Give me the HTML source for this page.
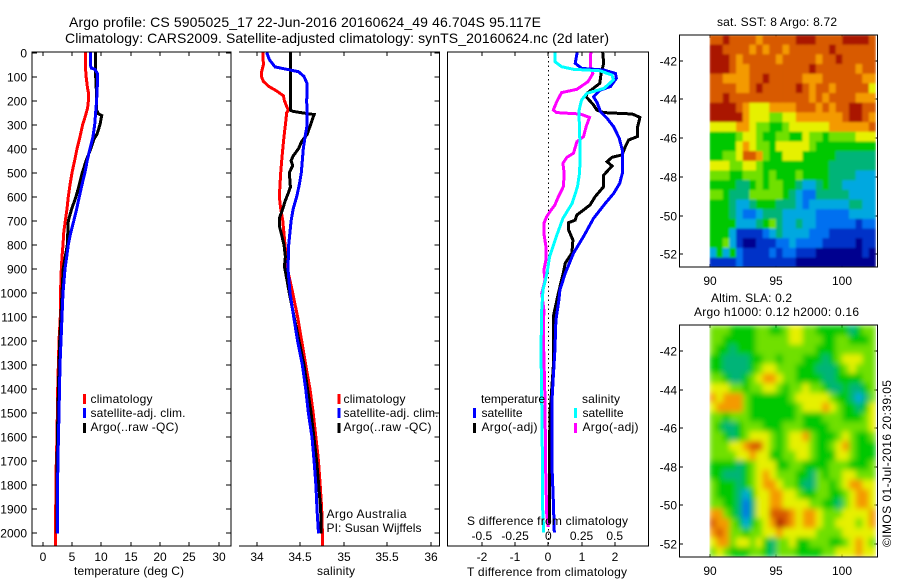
<!DOCTYPE html>
<html lang="en">
<head>
<meta charset="utf-8">
<title>Argo profile chart</title>
<style>
html,body{margin:0;padding:0;background:#fff;width:900px;height:580px;overflow:hidden}
svg{display:block}
text{font-family:"Liberation Sans",sans-serif;font-size:12px;fill:#000}
.ax{stroke:#000;stroke-width:1.4;fill:none;shape-rendering:crispEdges}
.prof{fill:none;stroke-width:3;stroke-linejoin:miter;shape-rendering:crispEdges}
</style>
</head>
<body>
<svg id="chart" xmlns="http://www.w3.org/2000/svg" width="900" height="580" viewBox="0 0 900 580">
  <defs>
    <clipPath id="clip-p1"><rect x="32" y="52" width="199" height="494"/></clipPath>
    <clipPath id="clip-p2"><rect x="239" y="52" width="200" height="494"/></clipPath>
    <clipPath id="clip-p3"><rect x="447" y="52" width="202" height="494"/></clipPath>
    <clipPath id="clip-m1"><rect x="709.5" y="35" width="167" height="232"/></clipPath>
    <clipPath id="clip-m2"><rect x="709.5" y="325" width="167" height="232"/></clipPath>
    <filter id="soft1" x="0" y="0" width="100%" height="100%"><feGaussianBlur stdDeviation="1" edgeMode="duplicate"/></filter>
    <filter id="soft2" x="0" y="0" width="100%" height="100%"><feGaussianBlur stdDeviation="2.8" edgeMode="duplicate"/></filter>
  </defs>

  <text x="69" y="27" font-size="14" style="font-size:14px" textLength="472" lengthAdjust="spacing">Argo profile: CS 5905025_17 22-Jun-2016 20160624_49 46.704S 95.117E</text>
  <text x="65" y="43" style="font-size:14px" textLength="544" lengthAdjust="spacing">Climatology: CARS2009. Satellite-adjusted climatology: synTS_20160624.nc (2d later)</text>

  <g id="p1-series" clip-path="url(#clip-p1)"></g>
  <g id="p2-series" clip-path="url(#clip-p2)"></g>
  <line x1="548.5" y1="52" x2="548.5" y2="546" stroke="#000" stroke-width="1" stroke-dasharray="1.5 3"/>
  <g id="p3-series" clip-path="url(#clip-p3)"></g>

  <path class="ax" d="M32 52H231V546H32Z"/>
  <path class="ax" d="M239 52H439.5V546H239"/>
  <path class="ax" d="M447.5 52H648.5V546H447.5Z"/>
  <g id="axis-marks"></g>

  <text x="74" y="575" textLength="110" lengthAdjust="spacing">temperature (deg C)</text>
  <text x="317" y="575" textLength="38" lengthAdjust="spacing">salinity</text>
  <text x="467" y="576" textLength="160" lengthAdjust="spacing">T difference from climatology</text>
  <text x="467" y="525" textLength="161" lengthAdjust="spacing">S difference from climatology</text>

  <g>
    <rect x="83" y="394" width="3" height="10" fill="#f00"/>
    <text x="90.5" y="403" textLength="62" lengthAdjust="spacing">climatology</text>
    <rect x="83" y="408" width="3" height="10" fill="#00f"/>
    <text x="90.5" y="417" textLength="95" lengthAdjust="spacing">satellite-adj. clim.</text>
    <rect x="83" y="423" width="3" height="10" fill="#000"/>
    <text x="90.5" y="431" textLength="88" lengthAdjust="spacing">Argo(..raw -QC)</text>
  </g>
  <g>
    <rect x="337.5" y="394" width="3" height="10" fill="#f00"/>
    <text x="343.5" y="403" textLength="62" lengthAdjust="spacing">climatology</text>
    <rect x="337.5" y="408" width="3" height="10" fill="#00f"/>
    <text x="343.5" y="417" textLength="95" lengthAdjust="spacing">satellite-adj. clim.</text>
    <rect x="337.5" y="423" width="3" height="10" fill="#000"/>
    <text x="343.5" y="431" textLength="88" lengthAdjust="spacing">Argo(..raw -QC)</text>
  </g>
  <text x="326.5" y="518" textLength="80" lengthAdjust="spacing">Argo Australia</text>
  <text x="326.5" y="532" textLength="95" lengthAdjust="spacing">PI: Susan Wijffels</text>

  <g>
    <text x="481" y="403" textLength="64" lengthAdjust="spacing">temperature</text>
    <rect x="473" y="408" width="3" height="10" fill="#00f"/>
    <text x="481.5" y="417" textLength="41" lengthAdjust="spacing">satellite</text>
    <rect x="473" y="423" width="3" height="10" fill="#000"/>
    <text x="481.5" y="431" textLength="56" lengthAdjust="spacing">Argo(-adj)</text>
    <text x="582" y="403" textLength="38" lengthAdjust="spacing">salinity</text>
    <rect x="574" y="408" width="3" height="10" fill="#0ff"/>
    <text x="582.5" y="417" textLength="41" lengthAdjust="spacing">satellite</text>
    <rect x="574" y="423" width="3" height="10" fill="#f0f"/>
    <text x="582.5" y="431" textLength="56" lengthAdjust="spacing">Argo(-adj)</text>
  </g>

  <g clip-path="url(#clip-m1)"><g id="m1-cells" filter="url(#soft1)"></g></g>
  <g clip-path="url(#clip-m2)"><g id="m2-cells" filter="url(#soft2)"></g></g>
  <rect class="ax" x="679.5" y="35" width="198" height="232"/>
  <rect class="ax" x="679.5" y="325" width="198" height="232"/>

  <text x="717" y="26" textLength="120" lengthAdjust="spacing">sat. SST: 8 Argo: 8.72</text>
  <text x="711" y="302" textLength="81" lengthAdjust="spacing">Altim. SLA: 0.2</text>
  <text x="694" y="316" textLength="165" lengthAdjust="spacing">Argo h1000: 0.12 h2000: 0.16</text>
  <text transform="translate(891,547) rotate(-90)" textLength="167" lengthAdjust="spacing">©IMOS 01-Jul-2016 20:39:05</text>
</svg>

<script>
// ---------- profile data: depth in metres, value at that depth ----------
const depthTicks = [0,100,200,300,400,500,600,700,800,900,1000,1100,1200,1300,1400,1500,1600,1700,1800,1900,2000];
const tempTicks = [0,5,10,15,20,25,30];
const salTicks = [34,34.5,35,35.5,36];
const salTickLabels = ['34','34.5','35','35.5','36'];
const tDiffTicks = [-2,-1,0,1,2];
const sDiffTicks = [-0.5,-0.25,0,0.25,0.5];
const sDiffTickLabels = ['-0.5','-0.25','0','0.25','0.5'];
const lonTicks = [90,95,100];
const latTicks = [-42,-44,-46,-48,-50,-52];

const tempClimDepth = [0,50,100,150,170,200,230,260,300,350,400,450,500,550,600,650,700,750,800,850,900,950,1000,1100,1200,1400,1600,1700,1900,2060];
const tempClim = [7.27,7.27,7.4,7.67,7.84,7.8,7.67,7.33,6.82,6.37,5.85,5.45,5.0,4.66,4.37,4.15,3.86,3.58,3.46,3.29,3.17,3.12,3.0,3.0,2.78,2.56,2.44,2.32,2.22,2.2];
const tempSatDepth = [0,50,65,70,90,150,200,300,350,400,450,500,550,600,650,700,750,800,850,900,1000,1100,1200,1300,1500,1700,1800,1900,2000];
const tempSat = [8.13,8.13,8.3,8.9,9.38,9.3,9.2,8.87,8.58,8.07,7.6,7.2,6.7,6.25,5.8,5.3,4.78,4.37,4.1,3.8,3.46,3.3,3.12,2.95,2.78,2.6,2.55,2.5,2.5];
const tempArgoDepth = [0,100,180,240,255,262,300,340,360,400,450,500,550,600,650,700,800,900,1000,1100,1200,1300,1500,1700,1900,2000];
const tempArgo = [9.04,9.04,9.2,9.2,9.5,10.06,9.78,9.27,8.75,8.2,7.4,6.76,6.25,5.68,4.95,4.37,4.2,3.5,3.3,3.1,2.9,2.78,2.6,2.45,2.4,2.4];

const salClimDepth = [0,50,80,100,120,140,160,180,200,225,240,250,300,350,400,450,500,600,650,700,800,900,1000,1100,1200,1300,1400,1500,1600,1700,1800,1900,2060];
const salClim = [34.07,34.077,34.057,34.054,34.077,34.134,34.23,34.307,34.318,34.345,34.364,34.345,34.33,34.314,34.3,34.287,34.276,34.26,34.276,34.3,34.325,34.353,34.414,34.47,34.517,34.563,34.613,34.65,34.68,34.71,34.73,34.747,34.76];
const salSatDepth = [0,30,60,70,80,100,130,200,300,350,400,500,550,600,650,700,800,900,1000,1100,1200,1300,1400,1500,1600,1700,1800,1900,2000];
const salSat = [34.115,34.146,34.21,34.345,34.48,34.544,34.58,34.575,34.58,34.556,34.536,34.513,34.49,34.46,34.42,34.395,34.368,34.36,34.383,34.425,34.47,34.525,34.563,34.594,34.636,34.66,34.68,34.693,34.71];
const salArgoDepth = [0,240,245,255,258,300,340,370,400,430,450,470,500,560,580,620,650,690,720,760,800,850,890,940,1000,1100,1300,1500,1700,1900,2000];
const salArgo = [34.387,34.387,34.42,34.594,34.66,34.62,34.582,34.517,34.48,34.42,34.395,34.414,34.375,34.387,34.368,34.325,34.3,34.26,34.26,34.287,34.314,34.33,34.318,34.345,34.375,34.43,34.544,34.625,34.69,34.736,34.74];

const dTSatDepth = [0,45,66,73,87,107,142,156,184,211,246,274,309,357,406,503,544,586,627,690,766,835,919,988,1030,1113,1238,1349,1446,1724,1862,1996];
const dTSat = [.87,.81,1.01,1.67,2.02,2.05,1.87,1.57,1.36,1.48,1.57,1.77,1.97,2.14,2.23,2.23,2.15,1.97,1.72,1.36,1.06,.76,.51,.35,.32,.23,.2,.15,.11,.11,.15,.18];
const dTArgoDepth = [0,45,87,128,170,184,218,239,250,256,270,315,350,364,392,426,436,454,472,510,558,600,634,655,676,697,708,738,780,835,877,919,1002,1099,1307,1501,1724,1918,1960];
const dTArgo = [1.64,1.67,1.59,1.55,1.16,1.14,1.36,1.46,1.67,2.53,2.76,2.68,2.68,2.42,2.32,2.22,1.92,1.77,1.92,1.67,1.67,1.41,1.26,1.06,.86,.81,.61,.61,.74,.71,.51,.45,.30,.15,.15,.05,.03,.03,.04];
const dSSatDepth = [0,38,59,70,76,94,114,149,170,198,246,309,433,503,558,627,690,766,849,919,988,1071,1238,1446,1654,1862,1996];
const dSSat = [.05,.05,.10,.19,.39,.48,.49,.42,.29,.25,.23,.235,.24,.235,.22,.18,.11,.06,.01,-.01,-.04,-.05,-.055,-.05,-.045,-.045,-.035];
const dSArgoDepth = [0,59,87,121,153,167,205,239,250,256,270,309,350,371,419,436,461,503,558,600,634,662,683,711,752,807,863,905,946,1002,1071,1169,1266,1446,1724,1918,1974];
const dSArgo = [.32,.316,.336,.30,.215,.10,.063,.038,.063,.24,.31,.285,.265,.215,.19,.14,.11,.12,.114,.076,.05,.013,-.013,-.033,-.033,-.018,-.018,-.033,-.025,-.05,-.033,-.038,-.033,-.025,-.02,-.012,0];

// ---------- map data: colour-scale level per half-degree cell, north to south ----------
const sstGrid = [
[9,9,10,9,9,9,9,8,9,9,9,9,9,10,10,10,9,9,9,9,10,10,10,10,9],
[10,10,9,9,9,9,8,9,8,9,9,8,9,9,9,9,9,9,10,9,9,9,9,9,9],
[10,10,10,9,8,9,9,9,9,9,8,9,9,9,9,9,8,9,9,10,9,9,9,9,9],
[10,10,10,9,8,8,9,9,9,9,9,9,9,9,9,10,9,9,9,9,9,9,8,9,9],
[9,9,8,8,8,8,9,9,10,9,9,9,9,9,8,8,8,9,9,9,9,9,9,8,8],
[9,9,9,9,8,8,9,10,9,9,9,9,9,10,9,8,9,9,8,9,9,9,9,9,7],
[9,9,10,9,9,9,9,9,9,9,9,9,9,9,9,8,9,8,9,9,9,9,8,8,8],
[10,10,10,10,9,8,7,7,7,8,8,8,8,9,9,9,8,9,8,9,9,10,10,9,9],
[10,10,10,10,10,8,7,7,7,6,6,7,7,8,8,8,8,8,8,8,9,10,10,9,8],
[7,7,7,7,8,8,7,6,6,5,5,6,7,7,7,7,7,7,8,8,8,8,8,8,9],
[5,5,5,5,6,7,7,6,5,5,6,6,5,5,7,6,6,5,6,6,6,6,7,7,7],
[5,5,5,5,7,8,7,6,6,5,7,7,7,7,7,6,5,5,5,5,5,5,5,5,5],
[5,5,6,6,7,9,9,8,6,5,5,7,7,7,5,5,5,5,5,4,4,4,4,4,4],
[7,7,7,6,6,7,7,6,5,5,5,5,5,5,5,5,5,5,4,4,4,4,4,4,4],
[6,6,6,5,5,6,6,6,5,6,5,5,5,6,5,5,5,5,4,4,4,4,3,3,3],
[5,5,5,5,4,4,5,6,5,6,6,5,5,4,3,3,4,5,4,4,3,3,3,3,3],
[6,6,5,4,4,4,6,6,6,6,6,5,4,3,2,2,4,4,4,4,4,3,3,3,3],
[5,5,5,4,3,3,4,5,5,5,4,4,4,3,2,3,3,3,3,3,3,4,4,3,3],
[5,5,5,4,3,2,2,3,4,4,4,3,3,3,3,3,2,2,2,2,2,3,3,3,3],
[5,5,5,5,3,3,3,4,5,6,4,3,3,4,3,3,2,2,2,2,2,2,1,2,2],
[5,5,5,3,1,1,1,1,2,3,4,3,3,3,3,2,2,2,1,1,1,1,1,1,1],
[5,5,6,3,1,0,0,1,1,1,2,2,3,2,2,2,2,1,1,1,1,1,0,1,1],
[3,5,3,5,2,1,1,1,1,2,1,2,2,1,1,1,0,0,0,0,0,0,0,1,0],
[1,1,1,1,2,1,1,1,1,1,1,1,1,0,0,0,0,0,0,0,0,0,0,0,0]
];
const slaGrid = [
[6,6,6,5,5,5,5,6,6,5,5,6,7,7,6,6,5,5,5,5,5,4,5,6,6],
[6,6,5,5,5,5,5,6,6,6,6,6,7,7,6,6,6,5,5,6,6,5,5,5,6],
[6,5,5,4,5,5,5,6,6,6,6,6,6,6,6,6,5,5,5,6,6,6,6,6,6],
[5,5,4,4,4,4,5,5,6,6,5,6,6,6,5,5,5,4,5,6,7,7,7,6,6],
[5,5,4,4,4,4,5,6,7,7,6,6,6,5,5,5,4,4,4,5,6,7,6,6,6],
[6,6,5,4,4,5,6,7,8,8,7,6,6,5,5,5,5,4,4,5,5,5,5,6,6],
[7,7,7,6,6,5,6,6,7,7,6,5,6,6,7,6,6,5,4,4,5,4,4,5,6],
[8,7,8,8,8,6,5,5,5,5,5,5,6,7,7,7,7,7,6,5,5,4,3,4,6],
[7,8,8,8,8,6,5,5,5,5,5,5,5,6,7,7,7,8,7,6,5,5,4,5,7],
[6,6,5,6,6,6,5,5,5,5,5,5,5,6,5,5,5,6,6,6,5,5,5,6,7],
[6,5,4,4,5,6,6,6,5,5,5,6,6,6,5,5,5,5,6,6,6,6,6,6,7],
[6,6,5,4,5,6,7,7,7,6,5,6,7,7,8,6,5,5,5,6,7,6,5,5,6],
[6,6,6,7,7,8,9,9,7,6,5,6,7,7,7,6,5,5,6,7,8,6,5,5,5],
[6,6,6,6,7,7,8,7,7,5,5,6,6,7,7,6,5,5,5,7,7,6,5,5,5],
[5,5,5,5,4,5,6,7,7,7,5,5,6,6,5,5,5,5,6,6,6,5,5,5,6],
[5,5,4,4,4,5,6,7,8,7,6,6,6,5,5,4,6,5,6,6,7,7,6,6,6],
[6,5,5,5,4,5,6,7,8,8,7,6,6,5,4,4,6,6,5,6,7,8,8,7,7],
[6,5,5,5,4,3,5,7,7,8,8,7,7,6,5,5,6,6,5,5,6,7,8,8,7],
[6,6,5,5,4,2,4,7,7,8,8,7,7,7,7,6,6,5,5,4,6,7,8,8,7],
[8,8,6,5,4,2,4,7,7,9,9,9,8,7,8,8,7,6,6,6,7,7,7,7,8],
[9,8,8,6,5,3,5,6,7,8,10,9,8,7,8,8,7,6,6,7,7,7,6,7,8],
[8,9,8,6,6,5,6,6,7,7,8,7,7,7,7,7,6,6,6,6,7,7,7,7,7],
[7,8,8,6,7,7,6,7,5,4,6,6,7,5,5,6,6,6,5,5,6,7,8,7,6],
[6,7,6,5,5,5,6,6,5,4,6,6,6,5,5,5,5,6,6,7,7,7,8,7,7]
];

// ---------- axis functions ----------
const SVGNS = 'http://www.w3.org/2000/svg';
const depthY = d => 52.5 + d * 0.2404;
const tempX = t => 42.7 + t * 5.86;
const salX = s => 256.7 + (s - 34) * 87;
const tDiffX = t => 548.3 + t * 33.2;
const sDiffX = s => 548.3 + s * 132.8;
const lonX = lon => 709.5 + (lon - 90) * 13.28;
const latY1 = lat => 60.7 + (-42 - lat) * 19.36;
const latY2 = lat => 351 + (-42 - lat) * 19.3;
const colourLevels = ['#00008f','#0030c8','#0070f0','#00a8e0','#00b478','#00c800','#70e000','#e6f000','#f49a00','#d85a00','#aa1400'];
const levelColour = v => colourLevels[Math.max(0, Math.min(10, Math.round(v)))];

function el(tag, attrs, parent) {
  const e = document.createElementNS(SVGNS, tag);
  for (const k in attrs) e.setAttribute(k, attrs[k]);
  parent.appendChild(e);
  return e;
}

function drawProfile(parentId, xFn, depths, values, colour, name, width) {
  const pts = depths.map((d, i) => xFn(values[i]).toFixed(1) + ',' + depthY(d).toFixed(1)).join(' ');
  const line = el('polyline', {points: pts, class: 'prof', stroke: colour, 'stroke-width': width}, document.getElementById(parentId));
  
  
}

drawProfile('p1-series', tempX, tempClimDepth, tempClim, '#f00', 'temperature-climatology-line', 3);
drawProfile('p1-series', tempX, tempArgoDepth, tempArgo, '#000', 'temperature-argo-line', 3);
drawProfile('p1-series', tempX, tempSatDepth, tempSat, '#00f', 'temperature-satellite-line', 3);
drawProfile('p2-series', salX, salClimDepth, salClim, '#f00', 'salinity-climatology-line', 3);
drawProfile('p2-series', salX, salArgoDepth, salArgo, '#000', 'salinity-argo-line', 3);
drawProfile('p2-series', salX, salSatDepth, salSat, '#00f', 'salinity-satellite-line', 3);
drawProfile('p3-series', sDiffX, dSArgoDepth, dSArgo, '#f0f', 'salinity-difference-argo-line', 3);
drawProfile('p3-series', tDiffX, dTArgoDepth, dTArgo, '#000', 'temperature-difference-argo-line', 3);
drawProfile('p3-series', tDiffX, dTSatDepth, dTSat, '#00f', 'temperature-difference-satellite-line', 3);
drawProfile('p3-series', sDiffX, dSSatDepth, dSSat, '#0ff', 'salinity-difference-satellite-line', 3);

const marks = document.getElementById('axis-marks');
function tick(x1, y1, x2, y2) {
  const t = el('line', {x1, y1, x2, y2, class: 'ax'}, marks);
  
  
}
function label(x, y, str, anchor) {
  const t = el('text', {x, y, 'text-anchor': anchor}, marks);
  t.textContent = str;
  
  
}

depthTicks.forEach(d => {
  const y = Math.round(depthY(d));
  tick(32, y, 37, y); tick(226, y, 231, y);
  tick(434.5, y, 439.5, y);
  label(27, y + 4.5, String(d), 'end');
});
tempTicks.forEach(t => {
  const x = Math.round(tempX(t));
  tick(x, 52, x, 56); tick(x, 546, x, 542);
  label(x, 561, String(t), 'middle');
});
salTicks.forEach((s, i) => {
  const x = Math.round(salX(s));
  tick(x, 52, x, 56); tick(x, 546, x, 542);
  label(x, 561, salTickLabels[i], 'middle');
});
tDiffTicks.forEach(t => {
  const x = Math.round(tDiffX(t));
  tick(x, 52, x, 56); tick(x, 546, x, 542);
  label(x, 561, String(t), 'middle');
});
sDiffTicks.forEach((s, i) => {
  label(sDiffX(s), 540, sDiffTickLabels[i], 'middle');
});

function drawMap(gridRows, groupId, latY, top, bottom, yLabelOffset, cellName) {
  const g = document.getElementById(groupId);
  gridRows.forEach((row, r) => {
    const lat = -40.67 - r * 0.5;
    row.forEach((v, c) => {
      const lon = 90 + c * 0.5;
      const cell = el('rect', {
        x: lonX(lon).toFixed(2), y: latY(lat).toFixed(2),
        width: (lonX(lon + 0.5) - lonX(lon) + 0.4).toFixed(2),
        height: (latY(lat - 0.5) - latY(lat) + 0.4).toFixed(2),
        fill: levelColour(v)
      }, g);
      
      
    });
  });
  lonTicks.forEach(lon => {
    const x = Math.round(lonX(lon));
    tick(x, top, x, top + 3); tick(x, bottom, x, bottom - 3);
    label(x, bottom + yLabelOffset, String(lon), 'middle');
  });
  latTicks.forEach(lat => {
    const y = Math.round(latY(lat));
    tick(679.5, y, 683, y); tick(874, y, 877.5, y);
    label(677, y + 4.5, String(lat), 'end');
  });
}
drawMap(sstGrid, 'm1-cells', latY1, 35, 267, 18, 'sst-cell');
drawMap(slaGrid, 'm2-cells', latY2, 325, 557, 18, 'sla-cell');
</script>
</body>
</html>
